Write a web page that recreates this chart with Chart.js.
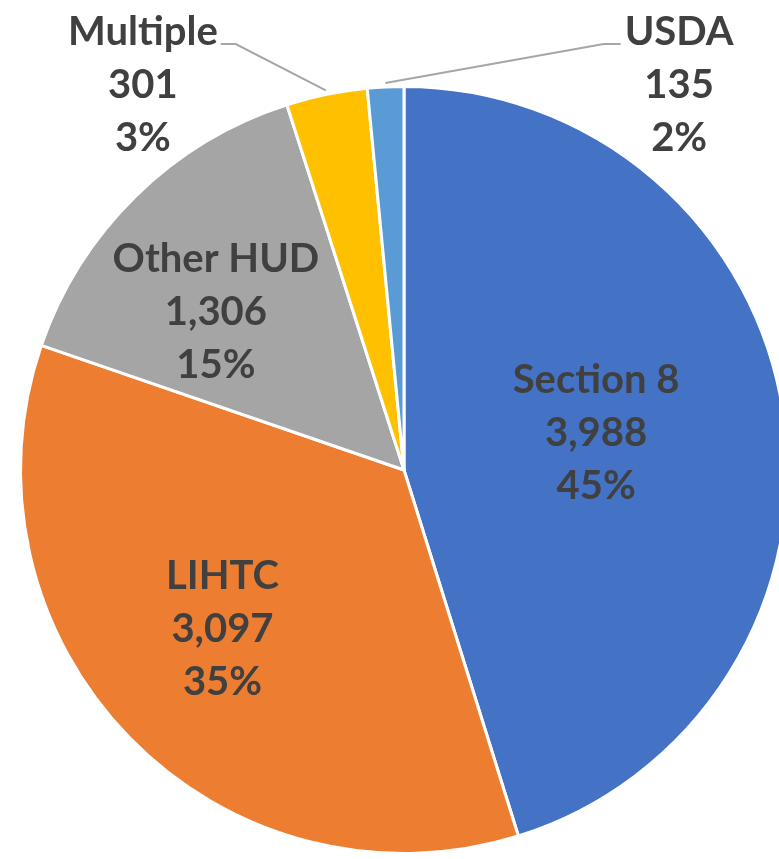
<!DOCTYPE html>
<html>
<head>
<meta charset="utf-8">
<script src="https://cdn.jsdelivr.net/npm/chart.js@4.4.0/dist/chart.umd.min.js"></script>
<style>
  html, body { margin: 0; padding: 0; background: #fff; overflow: hidden; width: 779px; height: 859px; }
  #wrap { width: 808px; height: 859px; }
</style>
</head>
<body>
<div id="wrap"><canvas id="pieChart" width="808" height="859"></canvas></div>
<script>
const categories = ['Section 8', 'LIHTC', 'Other HUD', 'Multiple', 'USDA'];
const unitCounts = [3988, 3097, 1306, 301, 135];
const sliceColors = ['#4472C4', '#ED7D31', '#A5A5A5', '#FFC000', '#5B9BD5'];

// label placement: radius as fraction of pie radius, angle shift (deg) from slice middle
const labelPlacement = [
    { r: 0.51, shift: -2.2, leader: false },
    { r: 0.63, shift: 2.9, leader: false },
    { r: 0.64, shift: -5.6, leader: false },
    { r: 1.213, shift: -22.5, leader: 'right' },
    { r: 1.234, shift: 38.3, leader: 'left' }
];

const total = unitCounts.reduce((a, b) => a + b, 0);
const TEXT_COLOR = '#404040';
const FONT_SIZE = 40;
const X_SCALE = 1.0;
const LINE_H = 53;

const pieLabels = {
    id: 'pieLabels',
    afterDatasetsDraw(chart) {
        const ctx = chart.ctx;
        const meta = chart.getDatasetMeta(0);
        ctx.save();
        ctx.font = `bold ${FONT_SIZE}px Lato`;
        meta.data.forEach((arc, i) => {
            const p = arc.getProps(['x', 'y', 'startAngle', 'endAngle', 'outerRadius'], true);
            const mid = (p.startAngle + p.endAngle) / 2;
            const place = labelPlacement[i];
            const ang = mid + place.shift * Math.PI / 180;
            const lx = p.x + Math.cos(ang) * p.outerRadius * place.r;
            const ly = p.y + Math.sin(ang) * p.outerRadius * place.r;
            const pct = Math.round(unitCounts[i] / total * 100) + '%';
            const lines = [categories[i], unitCounts[i].toLocaleString('en-US'), pct];

            if (place.leader) {
                const firstW = ctx.measureText(lines[0]).width * X_SCALE;
                const sx = p.x + Math.cos(mid) * (p.outerRadius + 4);
                const sy = p.y + Math.sin(mid) * (p.outerRadius + 4);
                const ty = ly - LINE_H + 12;
                let endX, elbowX;
                if (place.leader === 'right') {
                    endX = lx + firstW / 2 + 3;
                    elbowX = endX + 15;
                } else {
                    endX = lx - firstW / 2 - 4;
                    elbowX = endX - 17;
                }
                ctx.strokeStyle = '#A6A6A6';
                ctx.lineWidth = 2;
                ctx.beginPath();
                ctx.moveTo(sx, sy);
                ctx.lineTo(elbowX, ty);
                ctx.lineTo(endX, ty);
                ctx.stroke();
            }

            ctx.fillStyle = TEXT_COLOR;
            ctx.textAlign = 'center';
            ctx.textBaseline = 'middle';
            lines.forEach((t, k) => {
                ctx.save();
                ctx.translate(lx, ly + (k - 1) * LINE_H);
                ctx.scale(X_SCALE, 1);
                ctx.fillText(t, 0, 0);
                ctx.restore();
            });
        });
        ctx.restore();
    }
};

new Chart(document.getElementById('pieChart'), {
    type: 'pie',
    data: {
        labels: categories,
        datasets: [{
            data: unitCounts,
            backgroundColor: sliceColors,
            borderColor: '#ffffff',
            borderWidth: 3
        }]
    },
    options: {
        responsive: false,
        animation: false,
        layout: { padding: { top: 85, bottom: 4, left: 0, right: 0 } },
        plugins: {
            legend: { display: false },
            tooltip: { enabled: false }
        }
    },
    plugins: [pieLabels]
});
</script>
</body>
</html>
